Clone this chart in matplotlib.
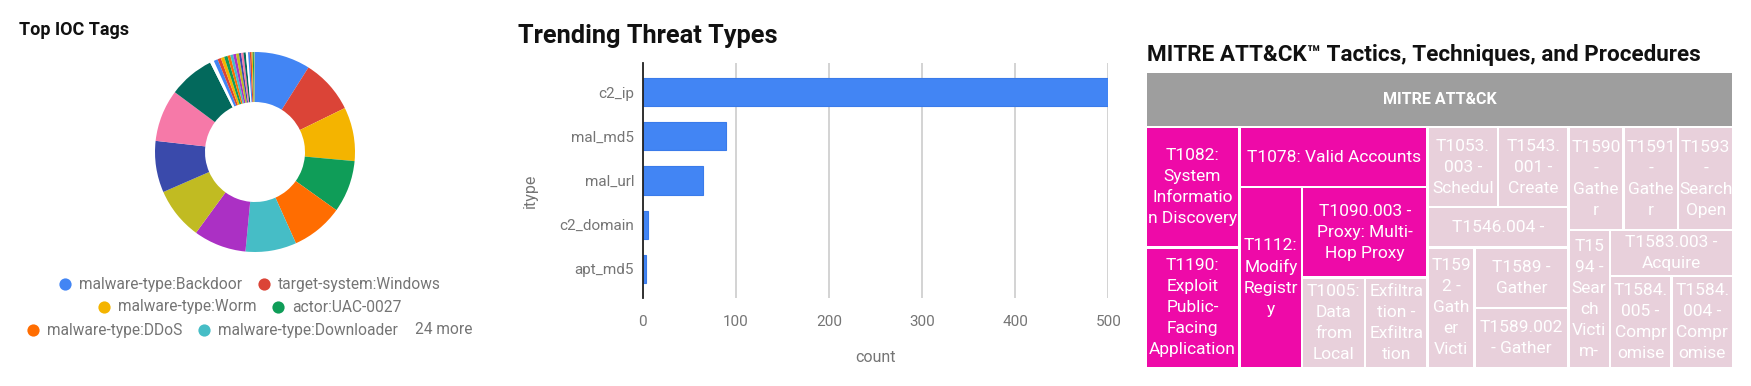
import matplotlib
matplotlib.use("Agg")
import matplotlib.pyplot as plt
from matplotlib.patches import Rectangle
from matplotlib.colors import LinearSegmentedColormap, Normalize
import numpy as np

plt.rcParams['font.family'] = ['Roboto', 'DejaVu Sans']

# ---------------- data ----------------
# Top IOC tags (donut)
tag_names = [
    "malware-type:Backdoor", "target-system:Windows", "malware-type:Worm",
    "actor:UAC-0027", "malware-type:DDoS", "malware-type:Downloader",
]
tag_counts = [97, 95, 94, 91, 91, 89, 92, 91, 90, 91, 80, 7,
              7, 6, 6, 6, 5, 5, 5, 5, 4, 4, 4, 4, 3, 3, 2, 2, 1, 1]
tag_palette = ["#4285F4", "#DB4437", "#F4B400", "#0F9D58", "#FF6D01", "#46BDC6",
               "#AB30C4", "#C1BB22", "#3A4AAB", "#F679A8", "#03695C", "#FFFFFF"]
legend_more = "24 more"

# Trending threat types (horizontal bars)
itypes = ["c2_ip", "mal_md5", "mal_url", "c2_domain", "apt_md5"]
itype_counts = [500, 90, 65, 6, 4]

# MITRE ATT&CK techniques (treemap)
ttp_labels = [
    "T1082:\nSystem\nInformatio\nn Discovery",
    "T1190:\nExploit\nPublic-\nFacing\nApplication",
    "T1078: Valid Accounts",
    "T1112:\nModify\nRegistr\ny",
    "T1090.003 -\nProxy: Multi-\nHop Proxy",
    "T1005:\nData\nfrom\nLocal",
    "Exfiltra\ntion -\nExfiltra\ntion",
    "T1053.\n003 -\nSchedul",
    "T1543.\n001 -\nCreate",
    "T1546.004 -",
    "T159\n2 -\nGath\ner\nVicti",
    "T1589 -\nGather",
    "T1589.002\n- Gather",
    "T1590\n-\nGathe\nr",
    "T1591\n-\nGathe\nr",
    "T1593\n-\nSearch\nOpen",
    "T15\n94 -\nSear\nch\nVicti\nm-",
    "T1583.003 -\nAcquire",
    "T1584.\n005 -\nCompr\nomise",
    "T1584.\n004 -\nCompr\nomise",
]
ttp_counts = [2, 2, 2, 2, 2, 1, 1, 1, 1, 1, 1, 1, 1, 1, 1, 1, 1, 1, 1, 1]
# nested slicing: 'h' = children side by side, 'v' = children stacked
ttp_tree = ('h', [
    ('v', [0, 1]),
    ('v', [2, ('h', [3, ('v', [4, ('h', [5, 6])])])]),
    ('v', [('h', [7, 8]), 9, ('h', [10, ('v', [11, 12])])]),
    ('v', [('h', [13, 14, 15]), ('h', [16, ('v', [17, ('h', [18, 19])])])]),
])
ttp_root = "MITRE ATT&CK"

# ---------------- figure ----------------
FW, FH = 1751, 386
fig = plt.figure(figsize=(FW / 100, FH / 100), dpi=100)
fig.patch.set_facecolor("white")


def px_axes(x0, y0, x1, y1):
    return fig.add_axes([x0 / FW, 1 - y1 / FH, (x1 - x0) / FW, (y1 - y0) / FH])


# overlay for titles and legend, in pixel units
ov = fig.add_axes([0, 0, 1, 1])
ov.set_xlim(0, FW)
ov.set_ylim(FH, 0)
ov.axis("off")
ov.set_zorder(5)

GREY = "#757575"
TITLE = "#111111"

# ---------- donut ----------
axp = px_axes(155, 52, 355, 252)
colors = [tag_palette[i % len(tag_palette)] for i in range(len(tag_counts))]
axp.pie(tag_counts, colors=colors, startangle=90, counterclock=False,
        radius=1.0, wedgeprops=dict(width=0.5, linewidth=0))
axp.set_xlim(-1, 1)
axp.set_ylim(-1, 1)
axp.set_aspect("equal")
axp.axis("off")

ov.text(19, 35, "Top IOC Tags", fontsize=13, fontweight="bold", color=TITLE,
        ha="left", va="baseline")

# legend rows built from text extents
renderer = fig.canvas.get_renderer()
rows = [
    [(0, tag_names[0]), (1, tag_names[1])],
    [(2, tag_names[2]), (3, tag_names[3])],
    [(4, tag_names[4]), (5, tag_names[5]), (None, legend_more)],
]
row_y = [284, 307, 330]
leg_cx = 249.5
MARK_R = 6      # marker radius, px
MARK_TXT = 14   # marker centre to text start, px
ENTRY_GAP = 16  # text end to next marker edge, px
for row, y in zip(rows, row_y):
    items = []
    for ci, label in row:
        t = ov.text(0, y, label, fontsize=11.2, color=GREY, ha="left", va="center")
        w = t.get_window_extent(renderer).width
        items.append((ci, t, w))
    total = 0
    for k, (ci, t, w) in enumerate(items):
        if k > 0:
            total += ENTRY_GAP
        total += (MARK_R + MARK_TXT + w) if ci is not None else (1 + w)
    x = leg_cx - total / 2
    for k, (ci, t, w) in enumerate(items):
        if k > 0:
            x += ENTRY_GAP
        if ci is not None:
            ov.plot(x + MARK_R, y, "o", ms=8.8, color=tag_palette[ci], mew=0)
            t.set_x(x + MARK_R + MARK_TXT)
            x += MARK_R + MARK_TXT + w
        else:
            t.set_x(x + 1)
            x += 1 + w

# ---------- bar chart ----------
axb = px_axes(642.5, 62.7, 1108.3, 298.3)
ypos = np.arange(len(itypes))
axb.barh(ypos, itype_counts, height=0.64, color="#4285F4",
         edgecolor="#3A7BEA", linewidth=0.8, zorder=3)
axb.set_xlim(0, 500)
axb.set_ylim(len(itypes) - 1 + 0.67, -0.67)
axb.set_xticks([0, 100, 200, 300, 400, 500])
axb.set_yticks(ypos)
axb.set_yticklabels(itypes)
axb.xaxis.grid(True, color="#CCCCCC", linewidth=1.2, zorder=0)
axb.set_axisbelow(True)
for s in ["top", "right", "bottom"]:
    axb.spines[s].set_visible(False)
axb.spines["left"].set_color("#222222")
axb.spines["left"].set_linewidth(1.3)
axb.spines["left"].set_zorder(4)
axb.tick_params(axis="both", length=0, labelsize=11, labelcolor=GREY)
axb.tick_params(axis="x", pad=12)
axb.tick_params(axis="y", pad=6)
axb.set_xlabel("count", fontsize=11.5, color=GREY, va="center")
axb.xaxis.set_label_coords(0.5, -(358 - 298.3) / 235.6)
axb.set_ylabel("itype", fontsize=11.5, color=GREY, va="center")
axb.yaxis.set_label_coords((530 - 642.5) / 465.8, (298.3 - 191) / 235.6)

ov.text(518, 43.3, "Trending Threat Types", fontsize=18.3, fontweight="bold",
        color=TITLE, ha="left", va="baseline")

# ---------- treemap ----------
TX0, TY0, TX1, TY1 = 1145.5, 72.2, 1733.2, 367.9
axt = px_axes(TX0, TY0, TX1, TY1)
W, H = TX1 - TX0, TY1 - TY0
axt.set_xlim(0, W)
axt.set_ylim(H, 0)
axt.axis("off")

HEADER_H = 54.7
GAP = 1.15


def node_size(node):
    if isinstance(node, int):
        return ttp_counts[node]
    return sum(node_size(c) for c in node[1])


def slice_layout(node, x, y, w, h):
    if isinstance(node, int):
        return [(node, x, y, w, h)]
    orient, children = node
    total = node_size(node)
    out, pos = [], 0.0
    for c in children:
        frac = node_size(c) / total
        if orient == 'h':
            out += slice_layout(c, x + pos * w, y, frac * w, h)
        else:
            out += slice_layout(c, x, y + pos * h, w, frac * h)
        pos += frac
    return out


cmap = LinearSegmentedColormap.from_list("ttp", ["#E8D0DB", "#EE0AA8"])
norm = Normalize(min(ttp_counts), max(ttp_counts))

hdr = Rectangle((GAP, GAP), W - 2 * GAP, HEADER_H - 2 * GAP,
                facecolor="#9E9E9E", edgecolor="none")
axt.add_patch(hdr)
axt.text(W / 2, HEADER_H / 2, ttp_root, fontsize=11.5, fontweight="bold",
         color="white", ha="center", va="center")

for idx, x, y, w, h in slice_layout(ttp_tree, 0, HEADER_H, W, H - HEADER_H):
    r = Rectangle((x + GAP, y + GAP), w - 2 * GAP, h - 2 * GAP,
                  facecolor=cmap(norm(ttp_counts[idx])), edgecolor="none")
    axt.add_patch(r)
    t = axt.text(x + w / 2, y + h / 2, ttp_labels[idx], fontsize=12.5,
                 color="white", ha="center", va="center", linespacing=1.5,
                 multialignment="center")
    t.set_clip_path(r)

ov.text(1147, 61.3, "MITRE ATT&CK\u2122 Tactics, Techniques, and Procedures",
        fontsize=16.2, fontweight="bold", color=TITLE, ha="left", va="baseline")

fig.savefig("out.png", dpi=100, facecolor="white")
